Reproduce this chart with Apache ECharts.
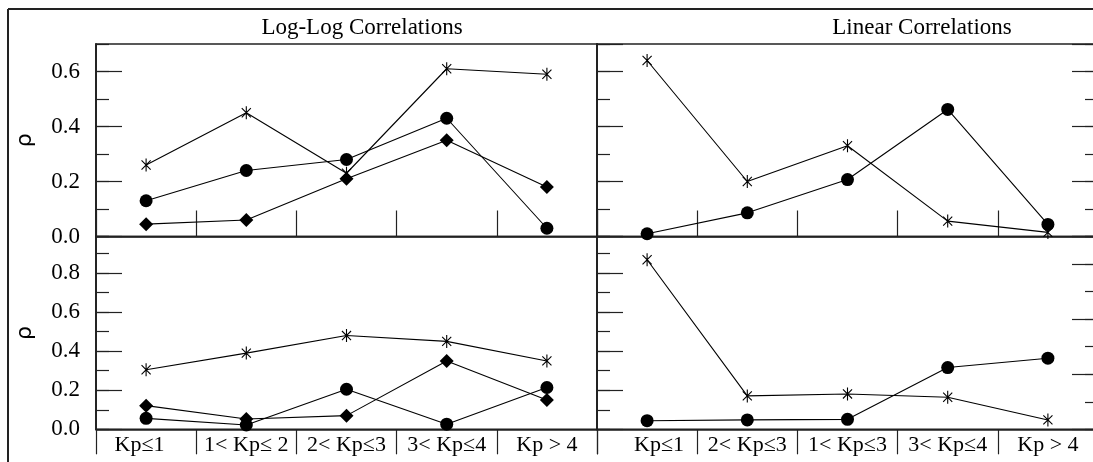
<!DOCTYPE html>
<html>
<head>
<meta charset="utf-8">
<script src="https://cdn.jsdelivr.net/npm/echarts@6/dist/echarts.min.js"></script>
<style>
html,body{margin:0;padding:0;background:#fff;}
#c{width:1093px;height:462px;}
</style>
</head>
<body>
<div id="c"></div>
<script>
// ---- data ----
const categoriesLeft  = ['Kp≤1', '1< Kp≤ 2', '2< Kp≤3', '3< Kp≤4', 'Kp > 4'];
const categoriesRight = ['Kp≤1', '2< Kp≤3', '1< Kp≤3', '3< Kp≤4', 'Kp > 4'];

const titleLeft = 'Log-Log Correlations';
const titleRight = 'Linear Correlations';
const yName = 'ρ';

// top row
const logTopStar    = [0.26, 0.45, 0.23, 0.61, 0.59];
const logTopCircle  = [0.13, 0.24, 0.28, 0.43, 0.03];
const logTopDiamond = [0.045, 0.06, 0.21, 0.35, 0.18];
const linTopStar    = [0.64, 0.20, 0.33, 0.056, 0.015];
const linTopCircle  = [0.01, 0.086, 0.207, 0.462, 0.044];
// bottom row
const logBotStar    = [0.305, 0.39, 0.48, 0.45, 0.35];
const logBotCircle  = [0.056, 0.022, 0.205, 0.026, 0.214];
const logBotDiamond = [0.121, 0.053, 0.07, 0.35, 0.15];
const linBotStar    = [0.868, 0.171, 0.181, 0.164, 0.048];
const linBotCircle  = [0.044, 0.048, 0.051, 0.316, 0.364];

// axis ranges
const topMax = 0.7;
const botMax = 0.987;
const rightBotMax = 0.7;

// ---- styling ----
const SERIF = 'Liberation Serif, Times New Roman, serif';
const AX = '#222';
const STAR = 'path://M10,0L10,20M3,3L17,17M3,17L17,3';

const grids = [
  {left: 96,  top: 44,    width: 501, height: 192.5},
  {left: 597, top: 44,    width: 501, height: 192.5},
  {left: 96,  top: 236.5, width: 501, height: 192.8},
  {left: 597, top: 236.5, width: 501, height: 192.8}
].map(g => Object.assign(g, {show: true, borderColor: AX, borderWidth: 1.5, backgroundColor: 'transparent', containLabel: false, outerBoundsMode: 'none'}));

function xAx(gi, cats, bottom) {
  return {
    type: 'category', gridIndex: gi, data: cats, boundaryGap: true,
    axisLine: {show: true, lineStyle: {color: AX, width: 1.5}},
    axisTick: {show: true, inside: !bottom, length: bottom ? 25 : 26, alignWithLabel: false, interval: 0, lineStyle: {color: AX, width: 1.2}},
    axisLabel: bottom ? {
      show: true, interval: 0, hideOverlap: false, margin: 5, fontFamily: SERIF, fontSize: 22, color: '#000',
      formatter: function (v, i) { return i === 0 ? '{f|' + v + '}' : v; },
      rich: {f: {fontFamily: SERIF, fontSize: 22, color: '#000', padding: gi === 2 ? [0, 13, 0, 0] : [0, 0, 0, 24]}}
    } : {show: false},
    splitLine: {show: false}
  };
}

function yAx(gi, pos, max, interval, len, labels, name) {
  const o = {
    type: 'value', gridIndex: gi, position: pos, min: 0, max: max, interval: interval,
    axisLine: {show: true, lineStyle: {color: AX, width: 1.5}},
    axisTick: {show: true, inside: true, length: len, lineStyle: {color: AX, width: 1.2}},
    axisLabel: labels ? {show: true, margin: 16, fontFamily: SERIF, fontSize: 23, color: '#000', showMaxLabel: false,
      formatter: function (v) { return v.toFixed(1); }} : {show: false},
    splitLine: {show: false}
  };
  if (name) {
    o.name = name; o.nameLocation = 'middle'; o.nameGap = 60; o.nameRotate = 90;
    o.nameTextStyle = {fontFamily: 'DejaVu Sans, Liberation Sans, sans-serif', fontSize: 22, color: '#000'};
  }
  return o;
}

const yAxes = [
  yAx(0, 'left', topMax, 0.2, 26, true, yName),   // 0
  yAx(0, 'left', topMax, 0.1, 13, false),         // 1
  yAx(1, 'left', topMax, 0.2, 26, false),         // 2
  yAx(1, 'left', topMax, 0.1, 13, false),         // 3
  yAx(1, 'right', topMax, 0.2, 26, false),        // 4
  yAx(1, 'right', topMax, 0.1, 13, false),        // 5
  yAx(2, 'left', botMax, 0.2, 26, true, yName),   // 6
  yAx(2, 'left', botMax, 0.1, 13, false),         // 7
  yAx(3, 'left', botMax, 0.2, 26, false),         // 8
  yAx(3, 'left', botMax, 0.1, 13, false),         // 9
  yAx(3, 'right', rightBotMax, 0.2, 26, false),   // 10
  yAx(3, 'right', rightBotMax, 0.1, 13, false)    // 11
];

function ser(xi, yi, data, kind) {
  const s = {
    type: 'line', xAxisIndex: xi, yAxisIndex: yi, data: data, clip: false,
    lineStyle: {color: '#000', width: 1.1}, showSymbol: true, animation: false,
    z: 3
  };
  if (kind === 'star') {
    s.symbol = STAR; s.symbolSize = 13; s.symbolKeepAspect = true;
    s.itemStyle = {color: '#000', borderColor: '#000', borderWidth: 1.1};
  } else if (kind === 'circle') {
    s.symbol = 'circle'; s.symbolSize = 13;
    s.itemStyle = {color: '#000', borderWidth: 0};
  } else {
    s.symbol = 'diamond'; s.symbolSize = 14;
    s.itemStyle = {color: '#000', borderWidth: 0};
  }
  return s;
}

const series = [
  ser(0, 0, logTopStar, 'star'),
  ser(0, 0, logTopCircle, 'circle'),
  ser(0, 0, logTopDiamond, 'diamond'),
  ser(1, 2, linTopStar, 'star'),
  ser(1, 2, linTopCircle, 'circle'),
  ser(2, 6, logBotStar, 'star'),
  ser(2, 6, logBotCircle, 'circle'),
  ser(2, 6, logBotDiamond, 'diamond'),
  ser(3, 8, linBotStar, 'star'),
  ser(3, 8, linBotCircle, 'circle')
];

const chart = echarts.init(document.getElementById('c'), null, {renderer: 'canvas'});
chart.setOption({
  animation: false,
  backgroundColor: '#fff',
  grid: grids,
  xAxis: [xAx(0, categoriesLeft, false), xAx(1, categoriesRight, false), xAx(2, categoriesLeft, true), xAx(3, categoriesRight, true)],
  yAxis: yAxes,
  series: series,
  graphic: [
    {type: 'line', shape: {x1: 8, y1: 9, x2: 1093, y2: 9}, style: {stroke: AX, lineWidth: 2}},
    {type: 'line', shape: {x1: 8, y1: 9, x2: 8, y2: 462}, style: {stroke: AX, lineWidth: 2}},
    {type: 'text', x: 362, y: 28, style: {text: titleLeft, font: '23px ' + SERIF, fill: '#000', align: 'center', verticalAlign: 'middle'}},
    {type: 'text', x: 922, y: 28, style: {text: titleRight, font: '23px ' + SERIF, fill: '#000', align: 'center', verticalAlign: 'middle'}}
  ]
});
</script>
</body>
</html>
